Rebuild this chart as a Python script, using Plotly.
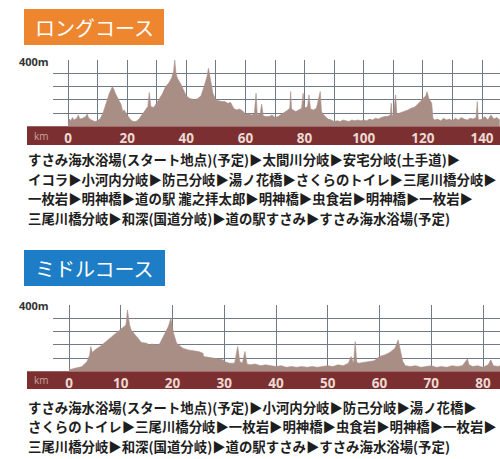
import plotly.graph_objects as go

# ---------------- data ----------------
long_km = [0, 0.5, 1, 1.5, 2, 3, 3.5, 4, 5, 6, 6.5, 7, 8, 9, 10, 11, 12, 13, 14, 15, 15.5, 16, 17, 18, 18.5, 19, 20,
           21, 22, 23, 24, 25, 26, 27, 27.5, 28, 29, 30, 31, 32, 33, 34, 35, 35.7, 36.1, 36.5, 37, 38, 39, 40,
           41, 42, 43, 44, 45, 46, 47, 47.5, 48, 49, 50, 51, 52, 53, 54, 55, 56, 57, 58, 59, 60,
           61, 62, 63, 63.6, 64, 65, 65.5, 66, 67, 68, 69, 70, 71, 72, 73, 74, 75, 75.3, 75.6, 76, 77, 78, 79, 79.5, 80,
           81, 81.5, 82, 83, 84, 85.3, 85.7, 86, 87, 88, 89, 90, 91, 92, 93, 94, 95, 96, 97, 98, 99, 100,
           101, 102, 103, 104, 105, 106, 107, 108, 109, 109.3, 109.6, 110, 110.8, 111.2, 112, 113, 114, 115, 116, 117,
           118, 119, 120, 121, 121.4, 122, 123, 123.4, 124, 125, 126, 127, 128, 129, 130, 131, 132, 133, 134, 135,
           136, 137, 138, 138.4, 138.7, 139, 140, 141, 142, 143, 144, 145, 146]
long_elev = [20, 45, 35, 55, 40, 50, 70, 45, 50, 60, 75, 50, 40, 30, 35, 50, 90, 150, 200, 240, 225, 200, 160, 130, 90, 100, 70,
             45, 30, 30, 45, 70, 100, 120, 205, 120, 115, 140, 170, 200, 240, 260, 290, 330, 400, 320, 290, 260, 220, 185,
             170, 165, 160, 170, 185, 240, 300, 350, 290, 200, 160, 155, 150, 150, 140, 145, 110, 100, 105, 95, 75,
             80, 70, 75, 200, 70, 80, 135, 65, 60, 60, 70, 55, 60, 70, 85, 95, 110, 210, 105, 100, 90, 100, 110, 200, 110,
             120, 190, 105, 100, 110, 210, 95, 80, 60, 45, 40, 30, 35, 30, 40, 35, 30, 40, 35, 40, 35, 40,
             35, 45, 40, 50, 45, 55, 60, 60, 70, 140, 65, 70, 190, 75, 80, 85, 95, 100, 110, 115,
             130, 150, 170, 185, 210, 170, 140, 50, 40, 45, 35, 50, 40, 45, 35, 50, 40, 55, 45, 40,
             50, 45, 55, 150, 50, 40, 45, 60, 40, 70, 45, 55, 40]

mid_km = [0, 0.5, 1, 1.5, 2, 2.5, 3, 3.5, 4, 4.2, 4.5, 5, 6, 7, 8, 9, 10, 10.5, 11, 11.3, 11.7, 12, 12.5, 13, 13.5, 14,
          15, 15.5, 16, 17, 17.5, 18.2, 19.2, 19.7, 20.2, 20.8, 21.5, 22, 23, 24, 25, 25.9, 26, 27, 28, 29, 29.8, 30,
          31, 32, 32.6, 33, 33.5, 34, 34.4, 35, 36, 37, 38, 39, 40, 41, 42, 43, 44, 45, 46, 47, 48, 49, 50,
          51, 52, 53, 54, 54.5, 55, 55.3, 55.6, 56, 57, 58, 59, 60, 61, 62, 63, 63.6, 64, 64.5, 65, 66, 67, 68, 69, 70,
          71, 72, 73, 74, 75, 76, 77, 77.3, 78, 79, 80, 81, 81.5, 82, 83, 83.5]
mid_elev = [10, 15, 20, 22, 25, 30, 45, 60, 100, 150, 115, 130, 150, 175, 200, 230, 255, 265, 280, 370, 280, 250, 230, 210, 190, 175,
            170, 160, 165, 160, 165, 210, 270, 320, 230, 170, 150, 140, 130, 125, 120, 110, 90, 85, 80, 75, 70, 60,
            50, 50, 150, 60, 50, 120, 45, 40, 45, 35, 40, 35, 30, 35, 25, 30, 25, 30, 25, 30, 25, 30, 35,
            30, 40, 35, 50, 90, 50, 180, 55, 50, 55, 60, 65, 90, 100, 115, 140, 190, 130, 60, 35, 30, 35, 25, 30, 35,
            25, 30, 25, 35, 30, 35, 75, 40, 30, 35, 25, 40, 70, 35, 30, 40]

long_ticks = [0, 20, 40, 60, 80, 100, 120, 140]
mid_ticks = [0, 10, 20, 30, 40, 50, 60, 70, 80]

long_title = "ロングコース"
mid_title = "ミドルコース"
long_route = [
    "すさみ海水浴場(スタート地点)(予定)▶太間川分岐▶安宅分岐(土手道)▶",
    "イコラ▶小河内分岐▶防己分岐▶湯ノ花橋▶さくらのトイレ▶三尾川橋分岐▶",
    "一枚岩▶明神橋▶道の駅 瀧之拝太郎▶明神橋▶虫食岩▶明神橋▶一枚岩▶",
    "三尾川橋分岐▶和深(国道分岐)▶道の駅すさみ▶すさみ海水浴場(予定)",
]
mid_route = [
    "すさみ海水浴場(スタート地点)(予定)▶小河内分岐▶防己分岐▶湯ノ花橋▶",
    "さくらのトイレ▶三尾川橋分岐▶一枚岩▶明神橋▶虫食岩▶明神橋▶一枚岩▶",
    "三尾川橋分岐▶和深(国道分岐)▶道の駅すさみ▶すさみ海水浴場(予定)",
]

# ---------------- layout helpers ----------------
W, H = 500, 459
def px(x):
    return x / W
def py(y):
    return 1 - y / H

FILL = "#A98E86"
GRID = "#6F7A86"
BAND = "#7B2F30"
TICKC = "#EBDAD3"
CJK = "Noto Sans CJK JP"

fig = go.Figure()
fig.add_trace(go.Scatter(x=long_km, y=long_elev, mode="lines", fill="tozeroy",
                         fillcolor=FILL, line=dict(color=FILL, width=0.6),
                         xaxis="x", yaxis="y", hoverinfo="skip", showlegend=False))
fig.add_trace(go.Scatter(x=mid_km, y=mid_elev, mode="lines", fill="tozeroy",
                         fillcolor=FILL, line=dict(color=FILL, width=0.6),
                         xaxis="x2", yaxis="y2", hoverinfo="skip", showlegend=False))

def xax(rng, ticks, minor_dt, anchor):
    d = dict(domain=[px(53), 1.0], range=rng, anchor=anchor,
             tickmode="array", tickvals=ticks, ticktext=[str(t) for t in ticks],
             showgrid=True, gridcolor=GRID, gridwidth=1, zeroline=False,
             showline=False, ticks="", ticklabelstandoff=2,
             tickfont=dict(family="Open Sans", size=13.5, color=TICKC, weight="bold"),
             fixedrange=True)
    if minor_dt:
        d["minor"] = dict(dtick=minor_dt, tick0=0, showgrid=True, gridcolor=GRID, gridwidth=1)
    return d

def yax(dom, anchor):
    return dict(domain=dom, range=[0, 400], anchor=anchor, tickmode="linear", tick0=0, dtick=80,
                showgrid=True, gridcolor=GRID, gridwidth=1, zeroline=False,
                showticklabels=False, ticks="", showline=False, fixedrange=True)

long_px_km = (482 - 68) / 140.0
mid_px_km = (483 - 69) / 80.0

shapes = [
    # km bands
    dict(type="rect", xref="paper", yref="paper", x0=px(27), x1=1.0, y0=py(145), y1=py(126.3),
         fillcolor=BAND, line=dict(width=0), layer="below"),
    dict(type="rect", xref="paper", yref="paper", x0=px(27), x1=1.0, y0=py(389), y1=py(371.2),
         fillcolor=BAND, line=dict(width=0), layer="below"),
    # title boxes
    dict(type="rect", xref="paper", yref="paper", x0=px(24), x1=px(164), y0=py(45), y1=py(9),
         fillcolor="#EE8630", line=dict(width=0), layer="below"),
    dict(type="rect", xref="paper", yref="paper", x0=px(24), x1=px(165), y0=py(286), y1=py(250),
         fillcolor="#1D7DC6", line=dict(width=0), layer="below"),
]

ann = []
def text(x, y, s, size, color, xanchor="left", family=CJK, weight="normal"):
    ann.append(dict(x=px(x), y=py(y), xref="paper", yref="paper", text=s, showarrow=False,
                    xanchor=xanchor, yanchor="middle",
                    font=dict(family=family, size=size, color=color, weight=weight)))

text(94, 27.5, long_title, 20, "white", xanchor="center")
text(94.5, 268, mid_title, 20, "white", xanchor="center")
text(51, 61, "400m", 11, "#333333", xanchor="right", family="Open Sans", weight="bold")
text(51, 305, "400m", 11, "#333333", xanchor="right", family="Open Sans", weight="bold")
text(41, 136, "km", 10, "#C9A59D", xanchor="center", family="Open Sans")
text(41, 380, "km", 10, "#C9A59D", xanchor="center", family="Open Sans")

for i, s in enumerate(long_route):
    text(26, 159 + i * 19.7, s, 13.4, "#1E1E1E", weight="bold")
for i, s in enumerate(mid_route):
    text(26, 406.5 + i * 19.5, s, 13.4, "#1E1E1E", weight="bold")

fig.update_layout(
    width=W, height=H, margin=dict(l=0, r=0, t=0, b=0),
    paper_bgcolor="white", plot_bgcolor="white",
    xaxis=xax([(53 - 68) / long_px_km, (500 - 68) / long_px_km], long_ticks, 10, "y"),
    yaxis=yax([py(126.6), py(60)], "x"),
    xaxis2=xax([(53 - 69) / mid_px_km, (500 - 69) / mid_px_km], mid_ticks, None, "y2"),
    yaxis2=yax([py(371.5), py(305)], "x2"),
    shapes=shapes, annotations=ann, showlegend=False,
)
fig.write_html("out.html", config={"displayModeBar": False, "staticPlot": True},
               post_script="document.body.style.margin='0';document.body.style.padding='0';document.body.style.overflow='hidden';")
